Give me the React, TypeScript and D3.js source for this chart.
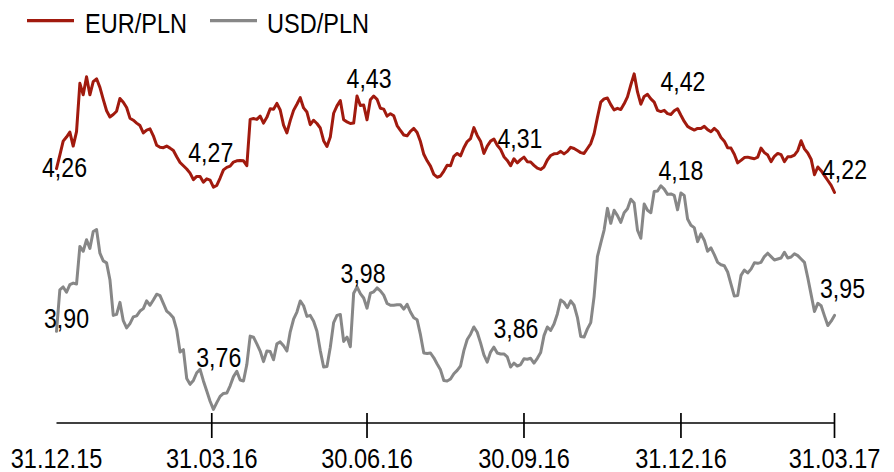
import React from 'react';
import * as d3 from 'd3';

const eurPln: number[] = [
  4.283, 4.316, 4.350, 4.360, 4.372, 4.338, 4.373, 4.491, 4.463, 4.507, 4.463, 4.495, 4.502, 4.481, 4.452, 4.424, 4.409, 4.415, 4.423, 4.454, 4.445, 4.432, 4.406, 4.401, 4.394, 4.388, 4.370, 4.377, 4.380, 4.363, 4.340, 4.335, 4.334, 4.338, 4.333, 4.327, 4.312,
  4.298, 4.290, 4.282, 4.272, 4.256, 4.264, 4.264, 4.250, 4.258, 4.255, 4.238, 4.242, 4.260, 4.280, 4.286, 4.289, 4.299, 4.302, 4.303, 4.302, 4.290, 4.403, 4.405, 4.403, 4.411, 4.394, 4.408, 4.429, 4.428, 4.442, 4.426, 4.389, 4.370, 4.400, 4.425, 4.440, 4.456, 4.431, 4.421,
  4.390, 4.401, 4.393, 4.382, 4.351, 4.337, 4.360, 4.418, 4.436, 4.449, 4.402, 4.397, 4.393, 4.394, 4.460, 4.437, 4.438, 4.402, 4.451, 4.460, 4.452, 4.430, 4.428, 4.411, 4.417, 4.412, 4.388, 4.376, 4.365, 4.363, 4.374, 4.381, 4.371, 4.349, 4.318, 4.302, 4.289, 4.269, 4.262,
  4.265, 4.277, 4.291, 4.290, 4.313, 4.320, 4.314, 4.334, 4.349, 4.356, 4.383, 4.364, 4.350, 4.320, 4.338, 4.350, 4.355, 4.340, 4.330, 4.312, 4.303, 4.290, 4.307, 4.297, 4.305, 4.311, 4.300, 4.299, 4.291, 4.284, 4.281, 4.287, 4.304, 4.315, 4.319, 4.320, 4.325, 4.319, 4.325,
  4.335, 4.332, 4.327, 4.322, 4.320, 4.332, 4.344, 4.368, 4.408, 4.445, 4.453, 4.455, 4.439, 4.426, 4.430, 4.427, 4.441, 4.458, 4.487, 4.514, 4.470, 4.440, 4.459, 4.464, 4.453, 4.445, 4.425, 4.422, 4.425, 4.417, 4.415, 4.424, 4.429, 4.413, 4.398, 4.386, 4.381, 4.377, 4.381,
  4.381, 4.386, 4.378, 4.373, 4.381, 4.374, 4.359, 4.350, 4.334, 4.333, 4.318, 4.297, 4.303, 4.310, 4.311, 4.309, 4.307, 4.311, 4.333, 4.322, 4.316, 4.300, 4.313, 4.320, 4.317, 4.300, 4.312, 4.312, 4.316, 4.327, 4.351, 4.331, 4.321, 4.306, 4.268, 4.287, 4.278, 4.266, 4.254, 4.242, 4.225,
];

const usdPln: number[] = [
  3.912, 3.998, 4.004, 3.993, 4.009, 4.012, 4.010, 4.088, 4.078, 4.102, 4.084, 4.119, 4.123, 4.074, 4.058, 4.054, 4.019, 3.945, 3.947, 3.972, 3.934, 3.919, 3.928, 3.942, 3.944, 3.954, 3.959, 3.975, 3.966, 3.977, 3.989, 3.986, 3.970, 3.954, 3.948, 3.940, 3.915,
  3.869, 3.874, 3.814, 3.802, 3.810, 3.826, 3.833, 3.809, 3.788, 3.767, 3.750, 3.764, 3.777, 3.783, 3.784, 3.799, 3.818, 3.829, 3.811, 3.809, 3.843, 3.902, 3.900, 3.886, 3.871, 3.849, 3.871, 3.870, 3.853, 3.886, 3.890, 3.882, 3.871, 3.911, 3.937, 3.952, 3.975, 3.965, 3.943,
  3.945, 3.933, 3.912, 3.872, 3.838, 3.839, 3.879, 3.930, 3.945, 3.947, 3.891, 3.900, 3.880, 3.991, 4.004, 3.990, 3.981, 3.960, 3.991, 3.994, 4.002, 3.996, 3.987, 3.970, 3.966, 3.966, 3.967, 3.967, 3.958, 3.968, 3.952, 3.940, 3.936, 3.905, 3.867, 3.866, 3.867, 3.857, 3.844,
  3.832, 3.810, 3.809, 3.813, 3.824, 3.831, 3.840, 3.872, 3.895, 3.906, 3.921, 3.910, 3.888, 3.863, 3.848, 3.869, 3.879, 3.867, 3.865, 3.865, 3.859, 3.838, 3.846, 3.840, 3.843, 3.855, 3.854, 3.856, 3.846, 3.856, 3.868, 3.903, 3.921, 3.914, 3.927, 3.948, 3.977, 3.972, 3.961,
  3.975, 3.966, 3.941, 3.901, 3.900, 3.917, 3.930, 3.984, 4.067, 4.095, 4.122, 4.167, 4.136, 4.163, 4.152, 4.138, 4.158, 4.166, 4.186, 4.178, 4.122, 4.105, 4.176, 4.163, 4.158, 4.202, 4.203, 4.214, 4.207, 4.196, 4.197, 4.194, 4.164, 4.199, 4.194, 4.145, 4.132, 4.127, 4.098,
  4.114, 4.101, 4.078, 4.085, 4.071, 4.055, 4.050, 4.048, 4.035, 4.010, 3.985, 3.986, 4.028, 4.039, 4.033, 4.041, 4.054, 4.053, 4.055, 4.067, 4.074, 4.067, 4.060, 4.062, 4.064, 4.076, 4.064, 4.066, 4.073, 4.069, 4.062, 4.055, 4.023, 3.988, 3.953, 3.970, 3.965, 3.944, 3.924, 3.933, 3.945,
];

// quarter ends: axis ticks and annotated values
const quarterDates = ['2015-12-31', '2016-03-31', '2016-06-30', '2016-09-30', '2016-12-31', '2017-03-31'];
const tickLabels = ['31.12.15', '31.03.16', '30.06.16', '30.09.16', '31.12.16', '31.03.17'];
const eurQuarter = [4.26, 4.27, 4.43, 4.31, 4.42, 4.22];
const usdQuarter = [3.90, 3.76, 3.98, 3.86, 4.18, 3.95];
const eurLabels = ['4,26', '4,27', '4,43', '4,31', '4,42', '4,22'];
const usdLabels = ['3,90', '3,76', '3,98', '3,86', '4,18', '3,95'];
const seriesNames = ['EUR/PLN', 'USD/PLN'];

// label offsets from the point (date, value), in px
const eurLabelOffset = [[8, -1], [-1, -12], [2, -20], [-4, -10], [2, -21], [10, -15]];
const usdLabelOffset = [[10, -9], [7, -38], [-4, -16], [-8, -18], [0, -22], [8, -15]];

const W = 894;
const H = 472;
// no narrow font installed, so squeeze Liberation Sans horizontally
const FONT = "'Liberation Sans', Arial, sans-serif";
const SQUEEZE = 0.826;
const RED = '#A11A0E';
const GRAY = '#878787';

const parse = d3.timeParse('%Y-%m-%d');

const Narrow: React.FC<{ x: number; y: number; size: number; anchor?: string; children: React.ReactNode }> =
  ({ x, y, size, anchor = 'start', children }) => (
    <text transform={`translate(${x},${y}) scale(${SQUEEZE},1)`} textAnchor={anchor}
      fontSize={size} fill="#000">{children}</text>
  );

const App: React.FC = () => {
  const qDates = quarterDates.map(d => parse(d) as Date);
  const start = qDates[0];
  const end = qDates[qDates.length - 1];

  const x = d3.scaleTime().domain([start, end]).range([56.5, 834.5]);
  const yEur = d3.scaleLinear().domain([3.670, 4.621]).range([420, 30]);
  const yUsd = d3.scaleLinear().domain([3.728, 4.537]).range([420, 30]);

  const datesFor = (n: number) =>
    d3.range(n).map(i => new Date(+start + ((+end - +start) * i) / (n - 1)));

  const eurPts = datesFor(eurPln.length).map((d, i) => [d, eurPln[i]] as [Date, number]);
  const usdPts = datesFor(usdPln.length).map((d, i) => [d, usdPln[i]] as [Date, number]);

  const lineEur = d3.line<[Date, number]>().x(d => x(d[0])).y(d => yEur(d[1]));
  const lineUsd = d3.line<[Date, number]>().x(d => x(d[0])).y(d => yUsd(d[1]));

  const axisY = 423;

  return (
    <svg width={W} height={H} style={{ position: 'absolute', left: 0, top: 0, background: '#fff' }}
      fontFamily={FONT}>
      {/* legend */}
      <line x1={27} x2={74} y1={20.7} y2={20.7} stroke={RED} strokeWidth={3.3} />
      <Narrow x={85} y={33} size={28.5}>{seriesNames[0]}</Narrow>
      <line x1={210} x2={257} y1={20.7} y2={20.7} stroke={GRAY} strokeWidth={3.3} />
      <Narrow x={267} y={33} size={28.5}>{seriesNames[1]}</Narrow>

      {/* series */}
      <path d={lineUsd(usdPts) || ''} fill="none" stroke={GRAY} strokeWidth={3}
        strokeLinejoin="round" strokeLinecap="round" />
      <path d={lineEur(eurPts) || ''} fill="none" stroke={RED} strokeWidth={3}
        strokeLinejoin="round" strokeLinecap="round" />

      {/* annotations */}
      {eurLabels.map((t, i) => (
        <Narrow key={'e' + i} x={x(qDates[i]) + eurLabelOffset[i][0]} y={yEur(eurQuarter[i]) + eurLabelOffset[i][1]}
          size={28} anchor="middle">{t}</Narrow>
      ))}
      {usdLabels.map((t, i) => (
        <Narrow key={'u' + i} x={x(qDates[i]) + usdLabelOffset[i][0]} y={yUsd(usdQuarter[i]) + usdLabelOffset[i][1]}
          size={28} anchor="middle">{t}</Narrow>
      ))}

      {/* x axis */}
      <line x1={x(start)} x2={x(end)} y1={axisY} y2={axisY} stroke="#000" strokeWidth={1.7} />
      {qDates.slice(1).map((d, i) => (
        <line key={'t' + i} x1={x(d)} x2={x(d)} y1={413} y2={438} stroke="#000" strokeWidth={1.7} />
      ))}
      {qDates.map((d, i) => (
        <Narrow key={'l' + i} x={x(d)} y={468} size={28.5} anchor="middle">{tickLabels[i]}</Narrow>
      ))}
    </svg>
  );
};

export default App;
